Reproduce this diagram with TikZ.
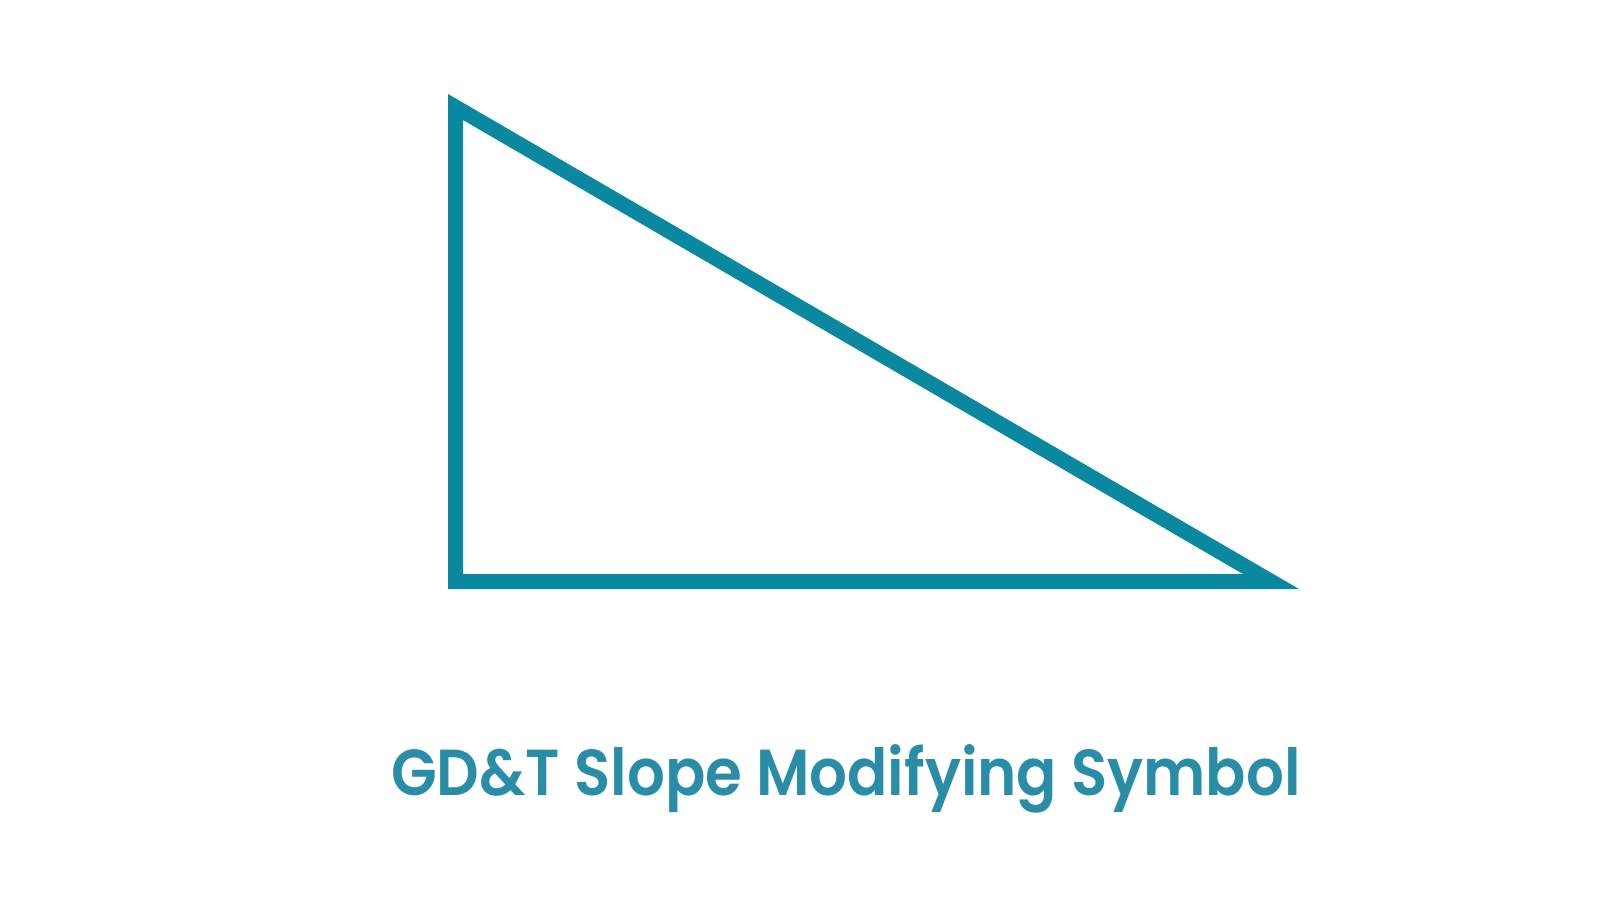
\documentclass[tikz,border=0pt]{standalone}
\usepackage{fontspec}
\newfontfamily\captionfont{Poppins SemiBold}
\definecolor{slopeteal}{HTML}{0A88A0}
\definecolor{labelteal}{HTML}{2A8DA8}
\begin{document}
\begin{tikzpicture}[
        x=1pt,y=-1pt,
        symbolpart/.style={fill=slopeteal,even odd rule},
        caption/.style={font=\captionfont\fontsize{65}{70}\selectfont,text=labelteal,anchor=base,inner sep=0pt}
    ]
        \useasboundingbox (0,0) rectangle (1600,900);
        % Corners
        \coordinate (top) at (448,94);
        \coordinate (corner) at (448,589);
        \coordinate (tip) at (1299,589);
        \coordinate (itop) at (463,120);
        \coordinate (icorner) at (463,574);
        \coordinate (itip) at (1243,574);

        % Triangle outline
        \fill[symbolpart] (top) -- (corner) -- (tip) -- cycle
            (itop) -- (icorner) -- (itip) -- cycle;

        % Label
        \node[caption] (title) at (846,795) {\scalebox{0.915}[1]{GD\&T Slope Modifying Symbol}};
    \end{tikzpicture}
\end{document}
